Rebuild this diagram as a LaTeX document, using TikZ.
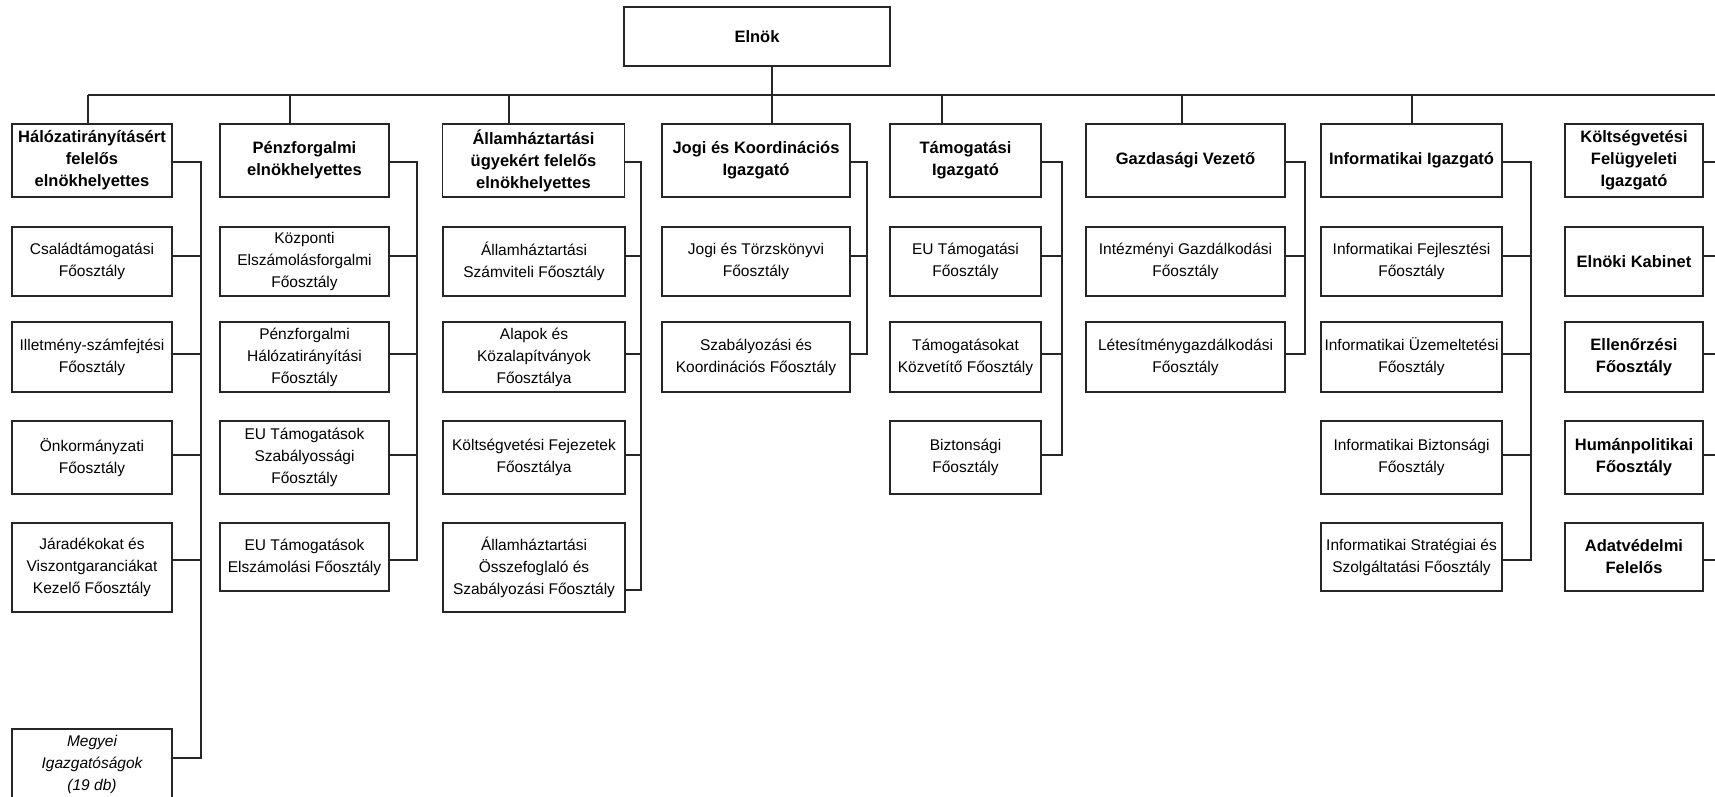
\documentclass[tikz,border=0pt]{standalone}
\usepackage{fontspec}
\setmainfont{Liberation Sans}
\tikzset{
  box/.style={draw=black!85, line width=1.4pt, fill=white, inner sep=0pt, outer sep=0pt,
    align=center, font=\fontsize{15.5}{22}\selectfont},
  head/.style={box, font=\bfseries\fontsize{16.5}{22}\selectfont},
  link/.style={draw=black!85, line width=1.4pt},
  rA/.style={minimum height=69pt},
  rB/.style={minimum height=70pt},
  rC/.style={minimum height=73pt},
  rD/.style={minimum height=89pt},
  rDs/.style={minimum height=68pt},
  w1/.style={minimum width=160pt},
  w2/.style={minimum width=169pt},
  w3/.style={minimum width=182pt},
  w4/.style={minimum width=188pt},
  w5/.style={minimum width=151pt},
  w6/.style={minimum width=199pt},
  w7/.style={minimum width=181pt},
  w8/.style={minimum width=138pt},
}
\begin{document}
\begin{tikzpicture}[x=1pt,y=-1pt]
\useasboundingbox (0,0) rectangle (1715,796);
\fill[white] (0,0) rectangle (1715,796);
\clip (0,0) rectangle (1715,796);

% top
\node[head, minimum width=266pt, minimum height=59pt] (elnok) at (757,36.5) {Elnök};
\coordinate (bus) at (0,95);
\coordinate (busend) at (1725,95);

% row 1
\node[head, w1, minimum height=73pt] (b1) at (92,160.5) {Hálózatirányításért\\felelős\\elnökhelyettes};
\node[head, w2, minimum height=73pt] (b2) at (304.5,160.5) {Pénzforgalmi\\elnökhelyettes};
\node[head, w3, minimum height=73pt] (b3) at (533.5,160.5) {Államháztartási\\ügyekért felelős\\elnökhelyettes};
\node[head, w4, minimum height=73pt] (b4) at (756,160.5) {Jogi és Koordinációs\\Igazgató};
\node[head, w5, minimum height=73pt] (b5) at (965.5,160.5) {Támogatási\\Igazgató};
\node[head, w6, minimum height=73pt] (b6) at (1185.5,160.5) {Gazdasági Vezető};
\node[head, w7, minimum height=73pt] (b7) at (1411.5,160.5) {Informatikai Igazgató};
\node[head, w8, minimum height=73pt] (b8) at (1634,160.5) {Költségvetési\\Felügyeleti\\Igazgató};

% bus and stubs
\draw[link] ([xshift=15pt]elnok.south) -- ([xshift=15pt]elnok.south |- bus);
\draw[link] ([xshift=-4pt]b1.north |- bus) -- (busend);
\draw[link] ([xshift=-4pt]b1.north) -- ([xshift=-4pt]b1.north |- bus);
\draw[link] ([xshift=-14.5pt]b2.north) -- ([xshift=-14.5pt]b2.north |- bus);
\draw[link] ([xshift=-24.5pt]b3.north) -- ([xshift=-24.5pt]b3.north |- bus);
\draw[link] ([xshift=16pt]b4.north) -- ([xshift=16pt]b4.north |- bus);
\draw[link] ([xshift=-23.5pt]b5.north) -- ([xshift=-23.5pt]b5.north |- bus);
\draw[link] ([xshift=-3.5pt]b6.north) -- ([xshift=-3.5pt]b6.north |- bus);
\draw[link] ([xshift=0.5pt]b7.north) -- ([xshift=0.5pt]b7.north |- bus);

% column 1
\node[box, w1, rA] (c1a) at (92,261.5) {Családtámogatási\\Főosztály};
\node[box, w1, rB] (c1b) at (92,357) {Illetmény-számfejtési\\Főosztály};
\node[box, w1, rC] (c1c) at (92,457.5) {Önkormányzati\\Főosztály};
\node[box, w1, rD] (c1d) at (92,567.5) {Járadékokat és\\Viszontgaranciákat\\Kezelő Főosztály};
\node[box, w1, minimum height=70pt, font=\itshape\fontsize{15.5}{22}\selectfont] (c1e) at (92,764) {Megyei\\Igazgatóságok\\(19 db)};
\coordinate (s1t) at (201,162);
\coordinate (s1b) at (201,758);
\draw[link] (b1.east |- s1t) -- (s1t) -- (s1b) -- (c1e.east |- s1b);
\draw[link] (c1a.east |- 0,256) -- (s1t |- 0,256);
\draw[link] (c1b.east |- 0,354) -- (s1t |- 0,354);
\draw[link] (c1c.east |- 0,455) -- (s1t |- 0,455);
\draw[link] (c1d.east |- 0,560) -- (s1t |- 0,560);

% column 2
\node[box, w2, rA] (c2a) at (304.5,261.5) {Központi\\Elszámolásforgalmi\\Főosztály};
\node[box, w2, rB] (c2b) at (304.5,357) {Pénzforgalmi\\Hálózatirányítási\\Főosztály};
\node[box, w2, rC] (c2c) at (304.5,457.5) {EU Támogatások\\Szabályossági\\Főosztály};
\node[box, w2, rDs] (c2d) at (304.5,557) {EU Támogatások\\Elszámolási Főosztály};
\coordinate (s2t) at (417,162);
\coordinate (s2b) at (417,560);
\draw[link] (b2.east |- s2t) -- (s2t) -- (s2b) -- (c2d.east |- s2b);
\draw[link] (c2a.east |- 0,256) -- (s2t |- 0,256);
\draw[link] (c2b.east |- 0,354) -- (s2t |- 0,354);
\draw[link] (c2c.east |- 0,455) -- (s2t |- 0,455);

% column 3
\node[box, w3, rA] (c3a) at (534,261.5) {Államháztartási\\Számviteli Főosztály};
\node[box, w3, rB] (c3b) at (534,357) {Alapok és\\Közalapítványok\\Főosztálya};
\node[box, w3, rC] (c3c) at (534,457.5) {Költségvetési Fejezetek\\Főosztálya};
\node[box, w3, rD] (c3d) at (534,567.5) {Államháztartási\\Összefoglaló és\\Szabályozási Főosztály};
\coordinate (s3t) at (641,162);
\coordinate (s3b) at (641,590);
\draw[link] (b3.east |- s3t) -- (s3t) -- (s3b) -- (c3d.east |- s3b);
\draw[link] (c3a.east |- 0,256) -- (s3t |- 0,256);
\draw[link] (c3b.east |- 0,354) -- (s3t |- 0,354);
\draw[link] (c3c.east |- 0,455) -- (s3t |- 0,455);

% column 4
\node[box, w4, rA] (c4a) at (756,261.5) {Jogi és Törzskönyvi\\Főosztály};
\node[box, w4, rB] (c4b) at (756,357) {Szabályozási és\\Koordinációs Főosztály};
\coordinate (s4t) at (867,162);
\coordinate (s4b) at (867,354);
\draw[link] (b4.east |- s4t) -- (s4t) -- (s4b) -- (c4b.east |- s4b);
\draw[link] (c4a.east |- 0,256) -- (s4t |- 0,256);

% column 5
\node[box, w5, rA] (c5a) at (965.5,261.5) {EU Támogatási\\Főosztály};
\node[box, w5, rB] (c5b) at (965.5,357) {Támogatásokat\\Közvetítő Főosztály};
\node[box, w5, rC] (c5c) at (965.5,457.5) {Biztonsági\\Főosztály};
\coordinate (s5t) at (1062,162);
\coordinate (s5b) at (1062,455);
\draw[link] (b5.east |- s5t) -- (s5t) -- (s5b) -- (c5c.east |- s5b);
\draw[link] (c5a.east |- 0,256) -- (s5t |- 0,256);
\draw[link] (c5b.east |- 0,354) -- (s5t |- 0,354);

% column 6
\node[box, w6, rA] (c6a) at (1185.5,261.5) {Intézményi Gazdálkodási\\Főosztály};
\node[box, w6, rB] (c6b) at (1185.5,357) {Létesítménygazdálkodási\\Főosztály};
\coordinate (s6t) at (1305,162);
\coordinate (s6b) at (1305,354);
\draw[link] (b6.east |- s6t) -- (s6t) -- (s6b) -- (c6b.east |- s6b);
\draw[link] (c6a.east |- 0,256) -- (s6t |- 0,256);

% column 7
\node[box, w7, rA] (c7a) at (1411.5,261.5) {Informatikai Fejlesztési\\Főosztály};
\node[box, w7, rB] (c7b) at (1411.5,357) {Informatikai Üzemeltetési\\Főosztály};
\node[box, w7, rC] (c7c) at (1411.5,457.5) {Informatikai Biztonsági\\Főosztály};
\node[box, w7, rDs] (c7d) at (1411.5,557) {Informatikai Stratégiai és\\Szolgáltatási Főosztály};
\coordinate (s7t) at (1531,162);
\coordinate (s7b) at (1531,560);
\draw[link] (b7.east |- s7t) -- (s7t) -- (s7b) -- (c7d.east |- s7b);
\draw[link] (c7a.east |- 0,256) -- (s7t |- 0,256);
\draw[link] (c7b.east |- 0,354) -- (s7t |- 0,354);
\draw[link] (c7c.east |- 0,455) -- (s7t |- 0,455);

% column 8
\node[head, w8, rA] (c8a) at (1634,261.5) {Elnöki Kabinet};
\node[head, w8, rB] (c8b) at (1634,357) {Ellenőrzési\\Főosztály};
\node[head, w8, rC] (c8c) at (1634,457.5) {Humánpolitikai\\Főosztály};
\node[head, w8, rDs] (c8d) at (1634,557) {Adatvédelmi\\Felelős};
\coordinate (s8) at (1725,0);
\draw[link] (b8.east |- 0,162) -- (s8 |- 0,162);
\draw[link] (c8a.east |- 0,256) -- (s8 |- 0,256);
\draw[link] (c8b.east |- 0,354) -- (s8 |- 0,354);
\draw[link] (c8c.east |- 0,455) -- (s8 |- 0,455);
\draw[link] (c8d.east |- 0,560) -- (s8 |- 0,560);
\end{tikzpicture}
\end{document}
